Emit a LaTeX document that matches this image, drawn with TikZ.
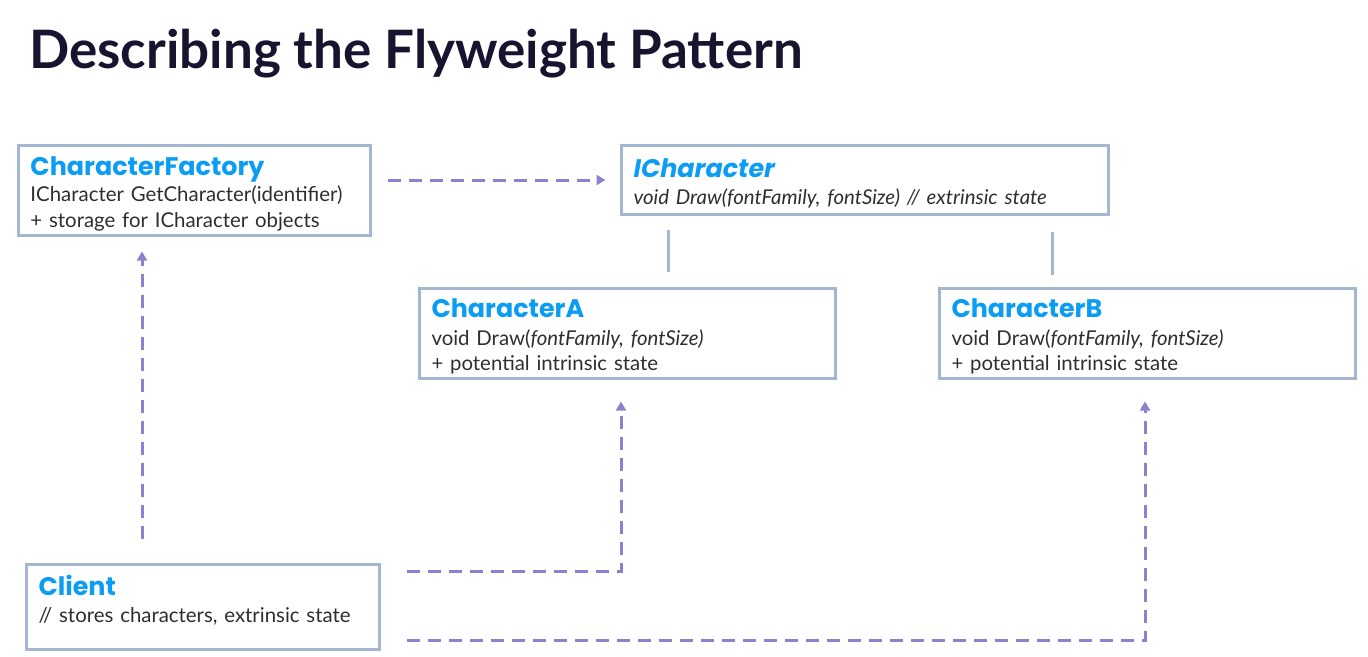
\documentclass[tikz,border=0pt]{standalone}
\usepackage{fontspec}
\setmainfont{Lato}
\newfontfamily\headfont{Poppins}
\usetikzlibrary{arrows.meta, calc}
\definecolor{boxline}{HTML}{A3B6D2}
\definecolor{accent}{HTML}{0B9DF4}
\definecolor{dep}{HTML}{8E80CF}
\definecolor{headline}{HTML}{16142E}
\definecolor{bodytext}{HTML}{2E2E2E}
\tikzset{
	umlbox/.style={draw=boxline, line width=3pt, anchor=north west, align=left, inner xsep=12pt, inner ysep=0pt, outer sep=0pt, text=bodytext, font=\fontsize{20.4}{25.5}\selectfont},
	depends/.style={dep, line width=3pt, dash pattern=on 13pt off 8pt, -{Triangle[length=9pt, width=10pt]}},
	realizes/.style={boxline, line width=3pt},
}
\newcommand{\boxtitle}[1]{{\headfont\fontsize{25.4}{26}\selectfont\bfseries\color{accent}\rule{0pt}{25pt}#1}}

\begin{document}
\begin{tikzpicture}[x=1pt, y=-1pt]
	\useasboundingbox (0, 0) rectangle (1368, 656);
	\node[anchor=base west, inner sep=0pt, text=headline, font=\fontsize{53}{53}\selectfont\bfseries] (title) at (29, 68) {Describing the Flyweight Pattern};
	\node[umlbox, text width=328pt, minimum height=90pt] (factory) at (18.5, 145.5) {\boxtitle{CharacterFactory}\\[1pt] ICharacter GetCharacter(identifier)\\ + storage for ICharacter objects};
	\node[umlbox, text width=463pt, minimum height=69pt] (ichar) at (621.5, 145.5) {\boxtitle{\itshape ICharacter}\\[1pt] \itshape void Draw(fontFamily, fontSize) // extrinsic state};
	\node[umlbox, text width=392pt, minimum height=90pt] (charA) at (419.5, 288.5) {\boxtitle{CharacterA}\\[2pt] void Draw(\textit{fontFamily, fontSize)}\\ + potential intrinsic state};
	\node[umlbox, text width=392pt, minimum height=90pt] (charB) at (939.5, 288.5) {\boxtitle{CharacterB}\\[2pt] void Draw(\textit{fontFamily, fontSize)}\\ + potential intrinsic state};
	\node[umlbox, text width=329pt, minimum height=85pt] (client) at (26.5, 564.5) {\boxtitle{Client}\\[1pt] // stores characters, extrinsic state\\[-12pt] \strut};
	% dependencies
	\draw[depends, shorten <=17pt, shorten >=16pt] (factory.east |- ichar.west) -- (ichar.west);
	\draw[depends, shorten <=26pt, shorten >=16pt] ([xshift=115.5pt]client.north west) -- ([xshift=115.5pt]client.north west |- factory.south);
	\draw[depends, shorten <=27pt, shorten >=23pt] ([yshift=-7pt]client.north east) -| ([xshift=-6.5pt]charA.south);
	\draw[depends, shorten <=27pt, shorten >=23pt] ([yshift=9.5pt]client.south east) -| ([xshift=-2.5pt]charB.south);
	% realizations
	\draw[realizes, shorten <=15pt, shorten >=17pt] ([xshift=40.5pt]charA.north |- ichar.south) -- ([xshift=40.5pt]charA.north);
	\draw[realizes, shorten <=17pt, shorten >=14pt] ([xshift=-95.5pt]charB.north |- ichar.south) -- ([xshift=-95.5pt]charB.north);
\end{tikzpicture}
\end{document}
